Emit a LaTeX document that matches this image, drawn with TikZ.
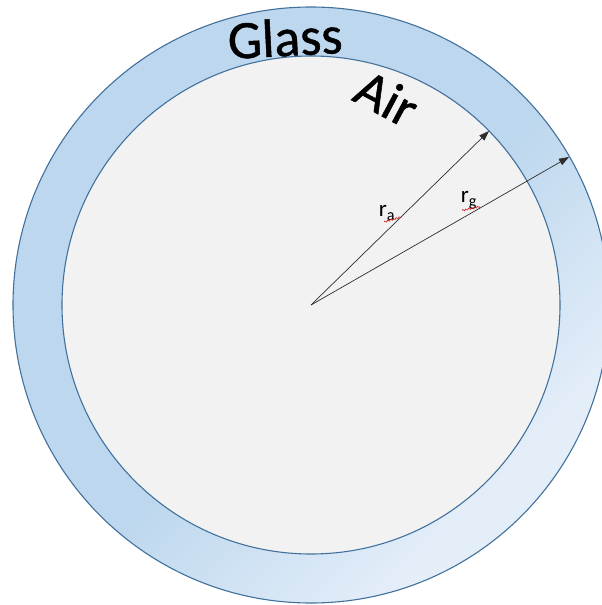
\documentclass[tikz,border=0pt]{standalone}
\usepackage{fontspec}
\setmainfont{Carlito}
\newfontfamily\heavyfont[FakeBold=0.9]{Carlito}
\usetikzlibrary{arrows.meta,decorations.pathmorphing}
\definecolor{ringblue}{RGB}{189,215,238}
\definecolor{ringlight}{RGB}{228,238,249}
\definecolor{edgeblue}{RGB}{65,113,156}
\definecolor{airgray}{RGB}{242,242,242}
\definecolor{arrowgray}{RGB}{45,45,45}
\pgfdeclarehorizontalshading{ringshade}{100bp}{color(0bp)=(ringblue); color(52bp)=(ringblue); color(72bp)=(ringlight); color(100bp)=(ringlight)}
\tikzset{
  edge/.style={draw=edgeblue, line width=1.1pt},
  radius arrow/.style={draw=arrowgray, line width=0.7pt, -{Triangle[length=10pt,width=7pt]}},
  bigtext/.style={font=\heavyfont\fontsize{54}{64}\selectfont, inner sep=0pt, text=black},
  rlabel/.style={font=\fontsize{23}{27}\selectfont, inner sep=0pt, text=black},
  squiggle/.style={draw=red!80!black, line width=0.5pt, decorate, decoration={snake, amplitude=0.8pt, segment length=3pt}}
}
\begin{document}
\begin{tikzpicture}[x=1pt,y=-1pt]
\useasboundingbox (0,0) rectangle (602,605);
\clip (0,0) rectangle (602,605);
\fill[white] (0,0) rectangle (602,605);
\coordinate (c) at (311,305);
\coordinate (ta) at (489,131);
\coordinate (tg) at (569,157);
% ring
\shade[shading=ringshade, shading angle=-45] (c) circle[radius=298pt];
\draw[edge] (c) circle[radius=298pt];
\draw[edge, fill=airgray] (c) circle[radius=249pt];
% radii
\draw[radius arrow] (c) -- (ta);
\draw[radius arrow] (c) -- (tg);
% labels
\node[bigtext, rotate=3, anchor=base] (glass) at (286,56) {Glass};
\node[bigtext, rotate=-28] (air) at (387,98) {Air};
\node[rlabel] (ra) at (387,213) {r\textsubscript{a}};
\node[rlabel] (rg) at (469,200) {r\textsubscript{g}};
\draw[squiggle] (384,222) -- (401,217);
\draw[squiggle] (462,210.5) -- (480,206.5);
\end{tikzpicture}
\end{document}
